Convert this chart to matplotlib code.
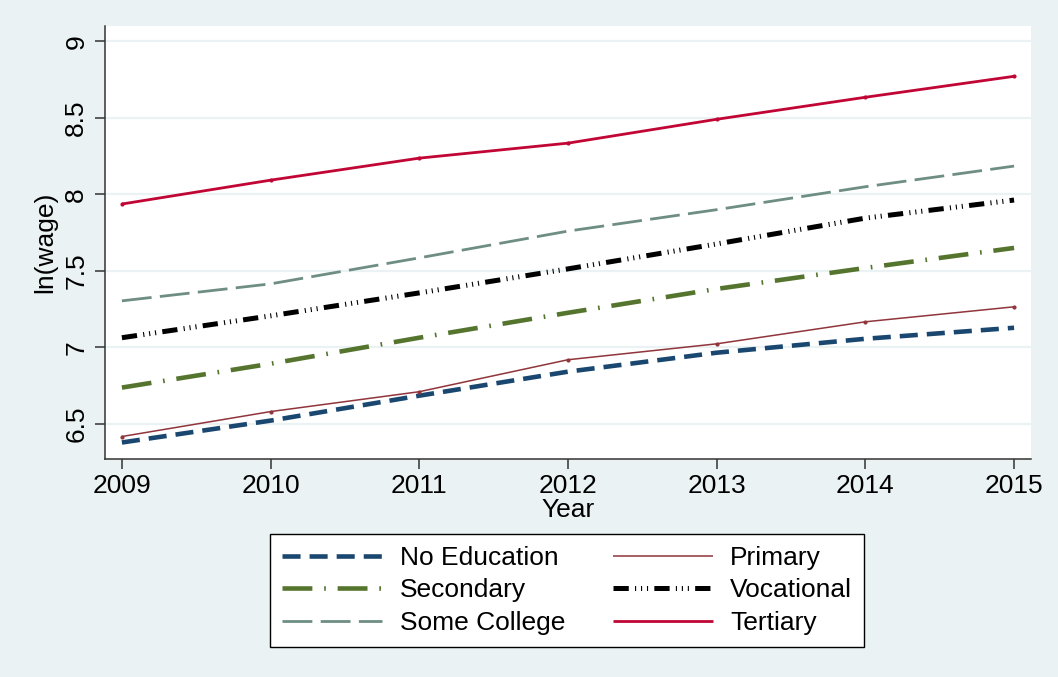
import matplotlib
matplotlib.use("Agg")
import matplotlib.pyplot as plt

plt.rcParams['font.family'] = ['Liberation Sans', 'DejaVu Sans']
plt.rcParams['lines.scale_dashes'] = False

# data
years = [2009, 2010, 2011, 2012, 2013, 2014, 2015]
no_education = [6.378, 6.521, 6.684, 6.841, 6.965, 7.056, 7.128]
primary = [6.417, 6.580, 6.710, 6.919, 7.023, 7.167, 7.265]
secondary = [6.737, 6.893, 7.063, 7.226, 7.382, 7.519, 7.650]
vocational = [7.063, 7.206, 7.356, 7.513, 7.676, 7.845, 7.963]
some_college = [7.304, 7.415, 7.585, 7.760, 7.900, 8.050, 8.185]
tertiary = [7.937, 8.093, 8.237, 8.335, 8.491, 8.635, 8.772]

yticks = [6.5, 7, 7.5, 8, 8.5, 9]
ytick_labels = ["6.5", "7", "7.5", "8", "8.5", "9"]

bg = "#eaf2f3"
fs = 19

fig = plt.figure(figsize=(10.58, 6.77), dpi=100, facecolor=bg)
ax = fig.add_axes([0.0992, 0.322, 0.8753, 0.6394])
ax.set_facecolor("white")

series = [
    ("No Education", no_education, dict(color="#1a476f", lw=3.3, dashes=(13, 6.5))),
    ("Primary", primary, dict(color="#90353b", lw=1.1, marker="o", ms=2)),
    ("Secondary", secondary, dict(color="#55752f", lw=3.3, dashes=(21.5, 8.5, 1.2, 8.5))),
    ("Vocational", vocational, dict(color="black", lw=3.6,
                                    dashes=(11, 4.5, 0.8, 3.5, 0.8, 3.5, 0.8, 4.5))),
    ("Some College", some_college, dict(color="#6e8e84", lw=2.0, dashes=(21.5, 6))),
    ("Tertiary", tertiary, dict(color="#c10534", lw=2.0, marker="o", ms=2)),
]

handles = {}
for name, vals, style in series:
    line, = ax.plot(years, vals, label=name, solid_capstyle="butt",
                    dash_capstyle="butt", **style)
    handles[name] = line

ax.set_xlim(2008.886, 2015.114)
ax.set_ylim(6.27, 9.1)
ax.set_xticks(years)
ax.set_yticks(yticks)
ax.set_yticklabels(ytick_labels, rotation=90, va="center")
ax.tick_params(axis="both", labelsize=fs, length=7, width=1.1, color="#333333")
ax.tick_params(axis="y", pad=5)
ax.tick_params(axis="x", pad=4)

ax.grid(axis="y", color=bg, lw=1.6)
ax.set_axisbelow(True)
for s in ["top", "right"]:
    ax.spines[s].set_visible(False)
for s in ["left", "bottom"]:
    ax.spines[s].set_linewidth(1.1)
    ax.spines[s].set_color("#333333")

ax.set_xlabel("Year", fontsize=fs, labelpad=0)
ax.set_ylabel("ln(wage)", fontsize=fs, labelpad=5)

order = ["No Education", "Secondary", "Some College", "Primary", "Vocational", "Tertiary"]
leg = fig.legend([handles[n] for n in order], order, ncol=2,
                 loc="center", bbox_to_anchor=(0.536, 0.128),
                 fontsize=fs, frameon=True, fancybox=False,
                 edgecolor="black", framealpha=1, handlelength=3.8,
                 handletextpad=0.65, columnspacing=1.8, labelspacing=0.32,
                 borderpad=0.45)
leg.get_frame().set_linewidth(1.0)
# no point markers in the legend keys
for h in leg.legend_handles:
    h.set_marker("")

fig.savefig("out.png", dpi=100, facecolor=bg)
